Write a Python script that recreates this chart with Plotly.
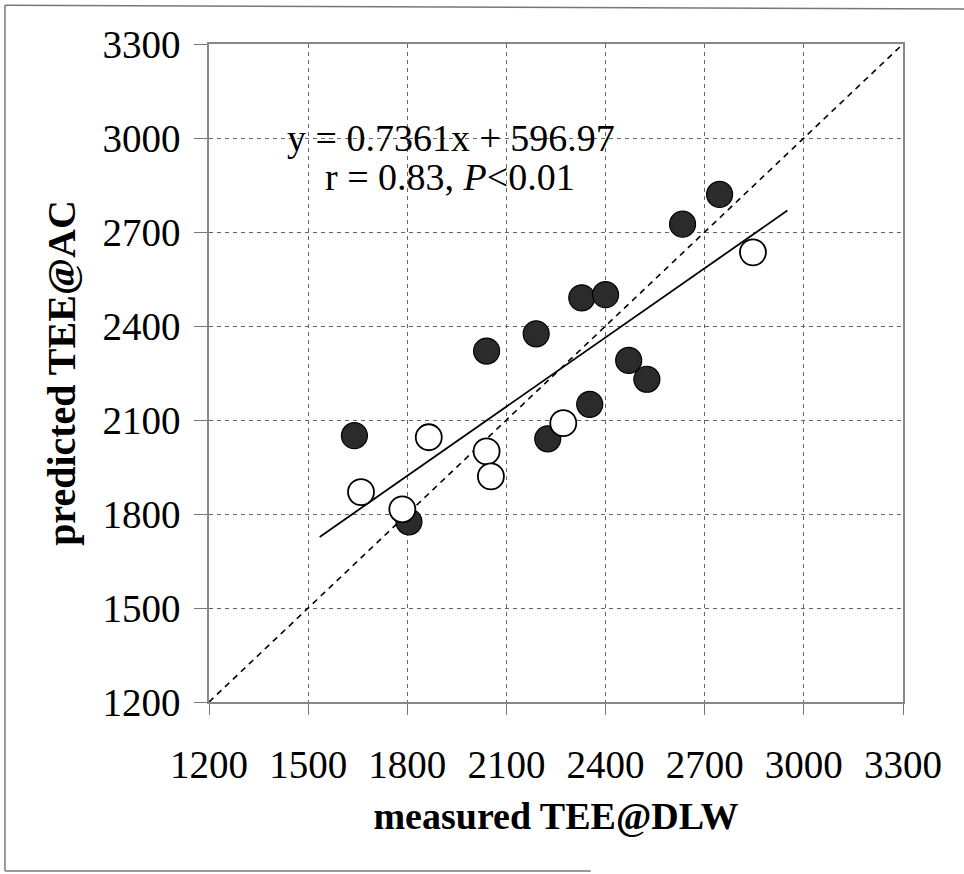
import plotly.graph_objects as go

# Data
filled_x = [1640, 1805, 2040, 2190, 2225, 2328, 2400, 2352, 2470, 2525, 2633, 2745]
filled_y = [2050, 1775, 2320, 2375, 2040, 2490, 2500, 2150, 2290, 2230, 2725, 2820]
open_x = [1660, 1785, 1865, 2040, 2053, 2272, 2846]
open_y = [1870, 1815, 2045, 2000, 1920, 2090, 2635]

slope = 0.7361
intercept = 596.97
reg_x = [1535, 2950]
reg_y = [slope * v + intercept for v in reg_x]
ident = [1200, 3300]
tickvals = [1200, 1500, 1800, 2100, 2400, 2700, 3000, 3300]

FONT = "Liberation Serif, Times New Roman, serif"

fig = go.Figure()
fig.add_trace(go.Scatter(x=ident, y=ident, mode="lines",
                         line=dict(color="black", width=1.6, dash="6px,5px"),
                         showlegend=False, hoverinfo="skip"))
fig.add_trace(go.Scatter(x=reg_x, y=reg_y, mode="lines",
                         line=dict(color="black", width=1.8),
                         showlegend=False))
fig.add_trace(go.Scatter(x=filled_x, y=filled_y, mode="markers",
                         marker=dict(size=26, color="#2b2b2b",
                                     line=dict(color="black", width=1.2)),
                         showlegend=False))
fig.add_trace(go.Scatter(x=open_x, y=open_y, mode="markers",
                         marker=dict(size=26, color="white",
                                     line=dict(color="black", width=1.8)),
                         showlegend=False))

axis_common = dict(
    range=[1200, 3300], tickvals=tickvals,
    showgrid=True, gridcolor="#666", gridwidth=1, griddash="4px,4px",
    showline=True, mirror=True, linecolor="#888", linewidth=1.5,
    ticks="outside", tickcolor="#777", tickwidth=1,
    tickfont=dict(family=FONT, size=39, color="black"),
    zeroline=False,
)

fig.update_xaxes(**axis_common, ticklen=11, ticklabelstandoff=16,
                 title=dict(text="<b>measured TEE@DLW</b>",
                            font=dict(family=FONT, size=38, color="black"),
                            standoff=18))
fig.update_yaxes(**axis_common, ticklen=13, ticklabelstandoff=6,
                 title=dict(text="<b>predicted TEE@AC</b>",
                            font=dict(family=FONT, size=40, color="black"),
                            standoff=14))

fig.add_annotation(x=1932, y=3000, xref="x", yref="y",
                   text="y = 0.7361x + 596.97", showarrow=False,
                   font=dict(family=FONT, size=38, color="black"))
fig.add_annotation(x=1930, y=2875, xref="x", yref="y",
                   text="r = 0.83, <i>P</i><0.01", showarrow=False,
                   font=dict(family=FONT, size=38, color="black"))

# outer frame of the figure (left, top, partial bottom edges)
frame = dict(color="#777", width=1.5)
fig.add_shape(type="line", xref="paper", yref="paper",
              x0=-0.294, x1=-0.294, y0=-0.257, y1=1.059, line=frame)
fig.add_shape(type="line", xref="paper", yref="paper",
              x0=-0.294, x1=1.1, y0=1.059, y1=1.053, line=frame)
fig.add_shape(type="line", xref="paper", yref="paper",
              x0=-0.294, x1=0.55, y0=-0.257, y1=-0.257, line=frame)

fig.update_layout(
    width=964, height=874,
    margin=dict(l=209, r=61, t=44, b=172),
    plot_bgcolor="white", paper_bgcolor="white",
    font=dict(family=FONT, color="black"),
)

fig.write_html("out.html")
